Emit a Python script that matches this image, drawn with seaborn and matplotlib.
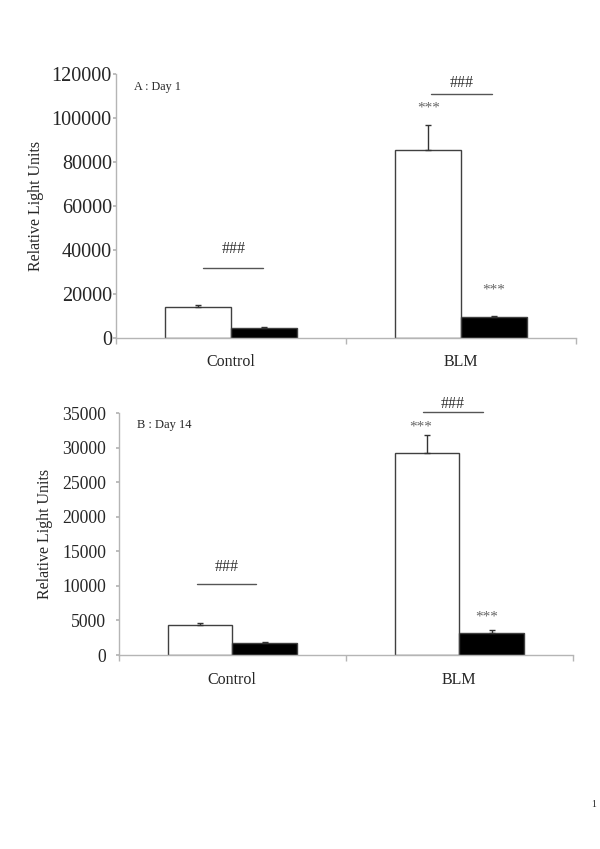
import matplotlib
matplotlib.use("Agg")
import matplotlib.pyplot as plt
import seaborn as sns
import pandas as pd
import numpy as np

sns.set_theme(style="white")
plt.rcParams['font.family'] = ['Liberation Serif', 'DejaVu Serif']

groups = ["Control", "BLM"]
series = ["white", "black"]

day1_values = [13800, 4600, 85500, 9600]
day1_errors = [1300, 300, 11500, 400]
day14_values = [4400, 1700, 29300, 3200]
day14_errors = [200, 200, 2500, 400]

day1_ticks = [0, 20000, 40000, 60000, 80000, 100000, 120000]
day14_ticks = [0, 5000, 10000, 15000, 20000, 25000, 30000, 35000]

# annotations: (text, group index, offset, y)
day1_stars = [("***", 1, -0.14, 104500), ("***", 1, 0.14, 21500)]
day1_hash = [(0, -0.12, 0.14, 31800, 40500), (1, -0.13, 0.135, 110900, 116000)]
day14_stars = [("***", 1, -0.17, 33000), ("***", 1, 0.12, 5500)]
day14_hash = [(0, -0.155, 0.105, 10300, 12700), (1, -0.16, 0.105, 35200, 36300)]

fig = plt.figure(figsize=(6, 8.49), dpi=100)
ax1 = fig.add_axes([0.1933, 0.6022, 0.7667, 0.3106])
ax2 = fig.add_axes([0.198, 0.2285, 0.7565, 0.2847])

axis_grey = "#b5b5b5"

def panel(ax, values, errors, ticks, label, stars, hashes, fs_tick, fs_label, label_x, ypad):
    df = pd.DataFrame({
        "group": [g for g in groups for _ in series],
        "series": series * len(groups),
        "value": values,
    })
    sns.barplot(data=df, x="group", y="value", hue="series", order=groups,
                hue_order=series, palette={"white": "white", "black": "black"},
                width=0.57, edgecolor="#404040", linewidth=1.0, errorbar=None,
                legend=False, ax=ax, saturation=1)
    bars = [p for p in ax.patches if p.get_width() > 0]
    bar_list = []
    for s_i, s in enumerate(series):
        for g_i, g in enumerate(groups):
            bar_list.append((g_i, s_i))
    for p, (g_i, s_i) in zip(bars, bar_list):
        idx = g_i * len(series) + s_i
        xc = p.get_x() + p.get_width() / 2
        ax.errorbar(xc, values[idx], yerr=[[0], [errors[idx]]], fmt="none",
                    ecolor="#333333", elinewidth=1.0, capsize=2.5, capthick=1.0)
    ax.set_xlim(-0.5, 1.5)
    ax.set_ylim(0, ticks[-1])
    ax.set_yticks(ticks)
    ax.set_yticklabels([str(t) for t in ticks], fontsize=fs_tick)
    ax.set_xticks([0, 1])
    ax.set_xticklabels(groups, fontsize=11.5)
    ax.set_xticks([-0.5, 0.5, 1.5], minor=True)
    ax.tick_params(axis="x", which="major", length=0, pad=12)
    ax.tick_params(axis="x", which="minor", length=4, color=axis_grey, direction="out", bottom=True)
    ax.tick_params(axis="y", length=2.5, color=axis_grey, direction="out", left=True, pad=ypad)
    for side in ["top", "right"]:
        ax.spines[side].set_visible(False)
    for side in ["left", "bottom"]:
        ax.spines[side].set_color(axis_grey)
        ax.spines[side].set_linewidth(1.0)
    ax.set_xlabel("")
    ax.set_ylabel("Relative Light Units", fontsize=11.5)
    ax.yaxis.set_label_coords(label_x, 0.5)
    ax.text(0.04, 0.975, label, transform=ax.transAxes, fontsize=fs_label, va="top", ha="left")
    for txt, g, off, y in stars:
        ax.text(g + off, y, txt, ha="center", va="center", fontsize=11, color="#666666", clip_on=False)
    for g, x0, x1, yl, yt in hashes:
        ax.plot([g + x0, g + x1], [yl, yl], color="#555555", lw=1.0, clip_on=False)
        ax.text(g + (x0 + x1) / 2, yt, "###", ha="center", va="center", fontsize=11.5,
                color="#333333", clip_on=False)

panel(ax1, day1_values, day1_errors, day1_ticks, "A : Day 1", day1_stars, day1_hash, 14.5, 8.7, -0.157, 0.5)
panel(ax2, day14_values, day14_errors, day14_ticks, "B : Day 14", day14_stars, day14_hash, 12.7, 9, -0.145, 6.5)

fig.text(0.993, 0.052, "1", fontsize=7, ha="right", va="center")

fig.savefig("out.png", dpi=100, facecolor="white")
